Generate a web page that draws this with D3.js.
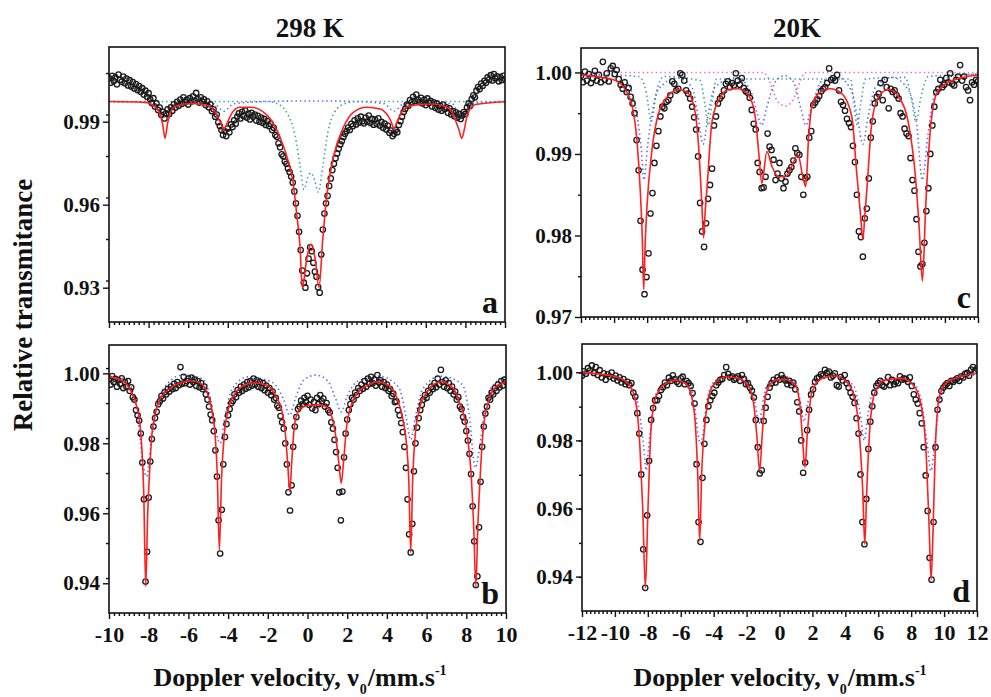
<!DOCTYPE html>
<html>
<head>
<meta charset="utf-8">
<script src="https://cdnjs.cloudflare.com/ajax/libs/d3/7.8.5/d3.min.js"></script>
<style>
  body { margin: 0; background: #fff; }
  svg { display: block; }
  text { font-family: "Liberation Serif", "Times New Roman", serif; font-weight: bold; fill: #111; }
</style>
</head>
<body>
<svg id="chart" width="991" height="697"></svg>
<script>
// ---- data ----
// channel grids (velocity, mm/s)
const gridAB = { start: -10, step: 0.08, count: 251 };
const gridCD = { start: -12, step: 0.12, count: 201 };

// measured transmittance, 298 K (panel a)
const transA = [
  1.0058, 1.0041, 1.0066, 1.0047, 1.0060, 1.0035, 1.0070, 1.0052, 1.0044, 1.0063,
  1.0039, 1.0056, 1.0031, 1.0050, 1.0027, 1.0043, 1.0020, 1.0036, 1.0015, 1.0029,
  1.0008, 1.0021, 0.9998, 1.0012, 0.9990, 1.0003, 0.9981, 0.9968, 0.9985, 0.9955,
  0.9966, 0.9942, 0.9951, 0.9925, 0.9936, 0.9912, 0.9930, 0.9945, 0.9928, 0.9952,
  0.9940, 0.9963, 0.9951, 0.9972, 0.9958, 0.9980, 0.9965, 0.9988, 0.9970, 0.9979,
  0.9962, 0.9985, 0.9973, 0.9992, 0.9976, 1.0004, 0.9982, 0.9969, 0.9988, 0.9972,
  0.9981, 0.9960, 0.9974, 0.9952, 0.9963, 0.9938, 0.9945, 0.9918, 0.9926, 0.9898,
  0.9884, 0.9870, 0.9852, 0.9866, 0.9848, 0.9875, 0.9862, 0.9890, 0.9881, 0.9905,
  0.9893, 0.9918, 0.9930, 0.9912, 0.9936, 0.9921, 0.9940, 0.9915, 0.9929, 0.9908,
  0.9932, 0.9918, 0.9926, 0.9904, 0.9921, 0.9900, 0.9915, 0.9896, 0.9910, 0.9888,
  0.9902, 0.9884, 0.9893, 0.9870, 0.9878, 0.9852, 0.9846, 0.9822, 0.9808, 0.9782,
  0.9775, 0.9756, 0.9748, 0.9731, 0.9718, 0.9702, 0.9680, 0.9648, 0.9605, 0.9560,
  0.9502, 0.9436, 0.9362, 0.9318, 0.9300, 0.9352, 0.9405, 0.9446, 0.9432, 0.9390,
  0.9358, 0.9340, 0.9302, 0.9282, 0.9420, 0.9510, 0.9568, 0.9605, 0.9632, 0.9668,
  0.9695, 0.9725, 0.9748, 0.9768, 0.9785, 0.9802, 0.9818, 0.9830, 0.9845, 0.9856,
  0.9866, 0.9879, 0.9870, 0.9892, 0.9884, 0.9905, 0.9890, 0.9912, 0.9897, 0.9918,
  0.9902, 0.9894, 0.9915, 0.9900, 0.9922, 0.9896, 0.9910, 0.9889, 0.9908, 0.9892,
  0.9912, 0.9886, 0.9899, 0.9878, 0.9893, 0.9872, 0.9886, 0.9860, 0.9868, 0.9848,
  0.9856, 0.9870, 0.9862, 0.9888, 0.9902, 0.9918, 0.9935, 0.9946, 0.9962, 0.9958,
  0.9978, 0.9970, 0.9990, 0.9975, 0.9998, 0.9980, 0.9971, 0.9986, 0.9966, 0.9979,
  0.9960, 0.9984, 0.9968, 0.9975, 0.9955, 0.9970, 0.9950, 0.9966, 0.9944, 0.9958,
  0.9940, 0.9962, 0.9946, 0.9952, 0.9932, 0.9948, 0.9926, 0.9938, 0.9920, 0.9934,
  0.9915, 0.9928, 0.9910, 0.9922, 0.9935, 0.9928, 0.9952, 0.9966, 0.9958, 0.9982,
  0.9995, 0.9988, 1.0012, 1.0025, 1.0018, 1.0038, 1.0030, 1.0048, 1.0041, 1.0060,
  1.0052, 1.0068, 1.0049, 1.0072, 1.0056, 1.0064, 1.0046, 1.0061, 1.0050, 1.0066, 1.0054
];

// measured transmittance, 298 K (panel b)
const transB = [
  0.9985, 0.9968, 0.9992, 0.9975, 0.9984, 0.9962, 0.9980, 0.9970, 0.9986, 0.9958,
  0.9975, 0.9962, 0.9978, 0.9950, 0.9960, 0.9932, 0.9925, 0.9895, 0.9880, 0.9865,
  0.9828, 0.9745, 0.9640, 0.9405, 0.9490, 0.9645, 0.9748, 0.9812, 0.9848, 0.9872,
  0.9890, 0.9912, 0.9920, 0.9935, 0.9928, 0.9946, 0.9940, 0.9955, 0.9948, 0.9962,
  0.9955, 0.9970, 0.9958, 0.9975, 0.9966, 1.0018, 0.9970, 0.9990, 0.9972, 0.9978,
  0.9985, 0.9968, 0.9988, 0.9975, 0.9982, 0.9964, 0.9978, 0.9960, 0.9972, 0.9955,
  0.9962, 0.9940, 0.9925, 0.9905, 0.9882, 0.9866, 0.9835, 0.9780, 0.9705, 0.9580,
  0.9485, 0.9610, 0.9740, 0.9818, 0.9855, 0.9880, 0.9898, 0.9915, 0.9922, 0.9940,
  0.9932, 0.9952, 0.9945, 0.9962, 0.9950, 0.9968, 0.9956, 0.9975, 0.9960, 0.9978,
  0.9965, 0.9985, 0.9968, 0.9980, 0.9962, 0.9976, 0.9958, 0.9972, 0.9952, 0.9965,
  0.9945, 0.9958, 0.9938, 0.9948, 0.9925, 0.9930, 0.9908, 0.9902, 0.9878, 0.9860,
  0.9842, 0.9800, 0.9740, 0.9660, 0.9608, 0.9680, 0.9790, 0.9848, 0.9875, 0.9898,
  0.9905, 0.9922, 0.9912, 0.9930, 0.9918, 0.9936, 0.9910, 0.9925, 0.9900, 0.9918,
  0.9895, 0.9930, 0.9912, 0.9938, 0.9920, 0.9928, 0.9905, 0.9915, 0.9895, 0.9888,
  0.9860, 0.9842, 0.9810, 0.9775, 0.9730, 0.9660, 0.9580, 0.9662, 0.9760, 0.9828,
  0.9868, 0.9895, 0.9912, 0.9930, 0.9925, 0.9945, 0.9938, 0.9958, 0.9950, 0.9968,
  0.9956, 0.9978, 0.9962, 0.9985, 0.9970, 0.9990, 0.9972, 0.9982, 0.9965, 0.9995,
  0.9974, 0.9980, 0.9962, 0.9975, 0.9958, 0.9968, 0.9950, 0.9955, 0.9935, 0.9942,
  0.9918, 0.9920, 0.9895, 0.9880, 0.9858, 0.9832, 0.9790, 0.9730, 0.9640, 0.9540,
  0.9488, 0.9570, 0.9720, 0.9800, 0.9845, 0.9872, 0.9895, 0.9910, 0.9925, 0.9938,
  0.9930, 0.9950, 0.9945, 0.9962, 0.9955, 0.9972, 0.9960, 0.9985, 0.9968, 1.0010,
  0.9975, 0.9962, 0.9980, 0.9958, 0.9972, 0.9950, 0.9962, 0.9940, 0.9948, 0.9925,
  0.9932, 0.9905, 0.9898, 0.9875, 0.9862, 0.9835, 0.9808, 0.9770, 0.9712, 0.9620,
  0.9520, 0.9395, 0.9420, 0.9560, 0.9690, 0.9790, 0.9848, 0.9885, 0.9905, 0.9930,
  0.9925, 0.9945, 0.9940, 0.9958, 0.9950, 0.9968, 0.9960, 0.9978, 0.9965, 0.9982, 0.9975
];

// measured transmittance, 20 K (panel c)
const transC = [
  0.9996, 0.9988, 1.0001, 0.9990, 0.9998, 0.9987, 0.9993, 1.0002, 0.9990, 0.9997,
  0.9988, 1.0013, 0.9991, 0.9999, 0.9989, 1.0005, 1.0008, 0.9998, 1.0003, 0.9992,
  0.9985, 0.9980, 0.9988, 0.9976, 0.9981, 0.9970, 0.9962, 0.9950, 0.9917, 0.9880,
  0.9818, 0.9758, 0.9728, 0.9749, 0.9778, 0.9827, 0.9852, 0.9889, 0.9910, 0.9928,
  0.9946, 0.9958, 0.9956, 0.9964, 0.9966, 0.9972, 0.9989, 0.9986, 0.9978, 0.9980,
  0.9999, 0.9997, 0.9990, 0.9978, 0.9974, 0.9968, 0.9958, 0.9945, 0.9930, 0.9897,
  0.9840, 0.9805, 0.9786, 0.9815, 0.9845, 0.9862, 0.9882, 0.9935, 0.9946, 0.9962,
  0.9968, 0.9971, 0.9978, 0.9986, 0.9989, 0.9982, 0.9987, 0.9984, 0.9999, 0.9990,
  0.9985, 0.9993, 0.9981, 0.9977, 0.9975, 0.9969, 0.9954, 0.9937, 0.9930, 0.9889,
  0.9878, 0.9858, 0.9859, 0.9872, 0.9925, 0.9909, 0.9905, 0.9893, 0.9868, 0.9876,
  0.9889, 0.9870, 0.9858, 0.9866, 0.9876, 0.9880, 0.9884, 0.9892, 0.9907, 0.9901,
  0.9899, 0.9872, 0.9850, 0.9870, 0.9872, 0.9920, 0.9928, 0.9960, 0.9963, 0.9967,
  0.9971, 0.9977, 0.9980, 0.9982, 0.9987, 1.0005, 0.9991, 0.9993, 0.9990, 0.9997,
  0.9978, 0.9964, 0.9960, 0.9953, 0.9943, 0.9938, 0.9933, 0.9910, 0.9890, 0.9850,
  0.9805, 0.9798, 0.9774, 0.9821, 0.9833, 0.9870, 0.9920, 0.9940, 0.9962, 0.9970,
  0.9974, 0.9987, 0.9966, 0.9991, 0.9982, 0.9956, 0.9980, 0.9976, 0.9978, 0.9972,
  0.9968, 0.9950, 0.9946, 0.9931, 0.9925, 0.9922, 0.9895, 0.9868, 0.9855, 0.9820,
  0.9780, 0.9762, 0.9765, 0.9791, 0.9830, 0.9858, 0.9900, 0.9935, 0.9958, 0.9976,
  0.9980, 0.9991, 0.9982, 0.9985, 0.9993, 0.9988, 0.9999, 0.9986, 0.9984, 0.9991,
  0.9995, 1.0009, 0.9990, 0.9995, 0.9982, 0.9978, 0.9966, 0.9988, 0.9985, 0.9991, 0.9989
];

// measured transmittance, 20 K (panel d)
const transD = [
  0.9990, 1.0003, 0.9996, 1.0012, 1.0005, 1.0020, 0.9998, 1.0015, 0.9992, 1.0006,
  0.9985, 0.9997, 0.9978, 0.9994, 0.9987, 0.9999, 0.9982, 0.9990, 0.9976, 0.9985,
  0.9970, 0.9980, 0.9965, 0.9972, 0.9962, 0.9968, 0.9940, 0.9928, 0.9880, 0.9820,
  0.9700, 0.9480, 0.9367, 0.9580, 0.9740, 0.9860, 0.9895, 0.9918, 0.9918, 0.9930,
  0.9948, 0.9956, 0.9970, 0.9962, 0.9984, 0.9975, 0.9991, 0.9980, 0.9972, 0.9966,
  0.9982, 0.9987, 0.9965, 0.9974, 0.9968, 0.9960, 0.9939, 0.9908, 0.9730, 0.9560,
  0.9502, 0.9690, 0.9790, 0.9860, 0.9900, 0.9918, 0.9930, 0.9940, 0.9962, 0.9970,
  0.9978, 0.9980, 0.9992, 1.0015, 0.9995, 0.9985, 0.9988, 0.9978, 0.9982, 0.9988,
  0.9975, 0.9992, 0.9981, 0.9965, 0.9968, 0.9955, 0.9946, 0.9926, 0.9860, 0.9780,
  0.9703, 0.9712, 0.9857, 0.9896, 0.9928, 0.9955, 0.9968, 0.9978, 0.9970, 0.9985,
  0.9978, 0.9992, 0.9982, 0.9976, 0.9965, 0.9975, 0.9962, 0.9970, 0.9950, 0.9912,
  0.9885, 0.9800, 0.9705, 0.9735, 0.9830, 0.9890, 0.9935, 0.9950, 0.9972, 0.9982,
  0.9986, 0.9994, 0.9990, 1.0007, 0.9998, 1.0002, 0.9985, 0.9990, 0.9997, 0.9962,
  0.9958, 0.9986, 0.9976, 0.9992, 0.9968, 0.9955, 0.9940, 0.9928, 0.9910, 0.9865,
  0.9820, 0.9700, 0.9560, 0.9495, 0.9628, 0.9775, 0.9855, 0.9900, 0.9940, 0.9960,
  0.9968, 0.9975, 0.9962, 0.9958, 0.9970, 0.9986, 0.9962, 0.9978, 0.9965, 0.9972,
  0.9968, 0.9988, 0.9978, 0.9982, 0.9980, 0.9972, 0.9985, 0.9960, 0.9935, 0.9920,
  0.9908, 0.9880, 0.9850, 0.9780, 0.9697, 0.9593, 0.9455, 0.9391, 0.9560, 0.9780,
  0.9890, 0.9920, 0.9945, 0.9955, 0.9962, 0.9968, 0.9960, 0.9975, 0.9972, 0.9978,
  0.9982, 0.9975, 0.9988, 0.9985, 0.9995, 0.9998, 0.9990, 1.0008, 1.0015, 1.0004, 1.0010
];

// fitted envelope (red) and sub-spectra (dotted), read at key velocities
const fitAV = [-10, -8.2, -7.7, -7.45, -7.3, -7.17, -7.04, -6.9, -6.6, -5.8, -5.0, -4.6, -4.39, -4.2, -4.0, -3.8, -3.4, -2.8, -2.3, -1.8, -1.36, -1.0, -0.7, -0.52, -0.35, -0.24, 0.0, 0.19, 0.4, 0.61, 0.79, 0.99, 1.33, 1.84, 2.34, 3.0, 3.7, 4.1, 4.25, 4.39, 4.55, 4.75, 5.2, 6.3, 7.0, 7.35, 7.55, 7.68, 7.81, 7.94, 8.1, 8.5, 10];
const fitAT = [0.9973, 0.9970, 0.9955, 0.9932, 0.9895, 0.9840, 0.9895, 0.9932, 0.9958, 0.9966, 0.9958, 0.9930, 0.9900, 0.9873, 0.9900, 0.9930, 0.9952, 0.9952, 0.9940, 0.9905, 0.9843, 0.9770, 0.9680, 0.9566, 0.9446, 0.9301, 0.9410, 0.9458, 0.9410, 0.9301, 0.9470, 0.9627, 0.9771, 0.9880, 0.9934, 0.9952, 0.9946, 0.9920, 0.9900, 0.9873, 0.9900, 0.9930, 0.9958, 0.9964, 0.9955, 0.9932, 0.9895, 0.9870, 0.9840, 0.9870, 0.9925, 0.9962, 0.9972];
const blueAV = [-10, -7.8, -7.45, -7.17, -6.9, -6.5, -4.7, -4.2, -3.7, -2, 0.2, 2.5, 3.9, 4.39, 4.9, 7.3, 7.81, 8.3, 10];
const blueAT = [0.9973, 0.9970, 0.9945, 0.9915, 0.9945, 0.9968, 0.9965, 0.9938, 0.9965, 0.9973, 0.9975, 0.9973, 0.9965, 0.9938, 0.9965, 0.9966, 0.9915, 0.9966, 0.9973];
const greenAV = [-10, -2.0, -1.5, -1.0, -0.6, -0.35, -0.15, 0.05, 0.2, 0.38, 0.57, 0.8, 1.05, 1.4, 1.9, 2.5, 10];
const greenAT = [0.9973, 0.9973, 0.9965, 0.9930, 0.9850, 0.9740, 0.9655, 0.9700, 0.9715, 0.9690, 0.9645, 0.9740, 0.9860, 0.9935, 0.9965, 0.9973, 0.9973];

const fitBV = [-10, -9.3, -8.9, -8.6, -8.45, -8.35, -8.25, -8.15, -8.05, -7.95, -7.85, -7.7, -7.5, -7.2, -6.8, -6.2, -5.9, -5.4, -5.0, -4.8, -4.65, -4.55, -4.44, -4.33, -4.2, -4.0, -3.7, -3.3, -2.7, -2.0, -1.6, -1.3, -1.12, -1.0, -0.89, -0.8, -0.68, -0.55, -0.35, 0.0, 0.5, 0.9, 1.2, 1.4, 1.58, 1.70, 1.82, 1.97, 2.15, 2.5, 3.0, 3.5, 4.1, 4.5, 4.8, 5.0, 5.1, 5.2, 5.3, 5.42, 5.65, 6.0, 6.7, 7.3, 7.7, 7.95, 8.1, 8.25, 8.38, 8.48, 8.58, 8.7, 8.85, 9.05, 9.4, 9.8, 10];
const fitBT = [0.9990, 0.9978, 0.9950, 0.9905, 0.9860, 0.9790, 0.9660, 0.9391, 0.9600, 0.9724, 0.9819, 0.9876, 0.9919, 0.9943, 0.9962, 0.9976, 0.9979, 0.9972, 0.9935, 0.9890, 0.9820, 0.9720, 0.9495, 0.9700, 0.9820, 0.9895, 0.9938, 0.9962, 0.9973, 0.9965, 0.9935, 0.9895, 0.9830, 0.9743, 0.9662, 0.9740, 0.9840, 0.9880, 0.9900, 0.9908, 0.9910, 0.9906, 0.9880, 0.9830, 0.9743, 0.9686, 0.9750, 0.9848, 0.9900, 0.9943, 0.9965, 0.9976, 0.9965, 0.9930, 0.9870, 0.9790, 0.9700, 0.9488, 0.9700, 0.9820, 0.9900, 0.9945, 0.9976, 0.9960, 0.9910, 0.9862, 0.9800, 0.9705, 0.9550, 0.9391, 0.9560, 0.9705, 0.9838, 0.9905, 0.9957, 0.9971, 0.9975];
const blueBV = [-10, -9.2, -8.8, -8.5, -8.3, -8.1, -7.9, -7.6, -7.2, -6.3, -5.3, -4.9, -4.6, -4.4, -4.15, -3.8, -3.0, -1.8, -1.2, -0.9, -0.6, -0.2, 0.4, 1.0, 1.4, 1.7, 2.0, 2.6, 3.6, 4.6, 4.95, 5.2, 5.45, 5.8, 6.7, 7.8, 8.15, 8.45, 8.7, 9.0, 9.5, 10];
const blueBT = [0.9990, 0.9985, 0.9950, 0.9850, 0.9745, 0.9705, 0.9790, 0.9900, 0.9960, 0.9995, 0.9985, 0.9930, 0.9830, 0.9800, 0.9880, 0.9955, 0.9990, 0.9975, 0.9925, 0.9880, 0.9930, 0.9980, 0.9995, 0.9980, 0.9930, 0.9890, 0.9935, 0.9980, 0.9992, 0.9960, 0.9880, 0.9810, 0.9880, 0.9955, 0.9992, 0.9968, 0.9880, 0.9730, 0.9800, 0.9920, 0.9975, 0.9990];

const fitCV = [-12, -10.5, -9.9, -9.3, -8.9, -8.62, -8.42, -8.30, -8.21, -8.12, -8.01, -7.71, -7.31, -6.7, -6.1, -5.5, -5.09, -4.89, -4.69, -4.59, -4.49, -4.39, -4.09, -3.68, -3.08, -2.48, -1.87, -1.47, -1.27, -1.07, -0.76, -0.46, -0.06, 0.34, 0.75, 1.11, 1.45, 1.59, 1.75, 1.95, 2.36, 3.06, 3.77, 4.37, 4.67, 4.9, 5.04, 5.16, 5.28, 5.58, 5.98, 6.59, 7.19, 7.79, 8.2, 8.44, 8.64, 8.84, 9.1, 9.5, 10.2, 12];
const fitCT = [0.9997, 0.9993, 0.9990, 0.9978, 0.9958, 0.9917, 0.9856, 0.9800, 0.9734, 0.9790, 0.9836, 0.9905, 0.9950, 0.9972, 0.9979, 0.9974, 0.9950, 0.9909, 0.9836, 0.9797, 0.9830, 0.9856, 0.9938, 0.9966, 0.9979, 0.9980, 0.9972, 0.9946, 0.9905, 0.9864, 0.9903, 0.9885, 0.9872, 0.9872, 0.9885, 0.9899, 0.9868, 0.9860, 0.9917, 0.9958, 0.9974, 0.9980, 0.9974, 0.9946, 0.9876, 0.9825, 0.9795, 0.9825, 0.9856, 0.9938, 0.9970, 0.9979, 0.9970, 0.9938, 0.9876, 0.9811, 0.9744, 0.9836, 0.9925, 0.9974, 0.9988, 0.9997];
const blueCV = [-12, -9.6, -9.0, -8.6, -8.35, -8.19, -8.0, -7.7, -7.3, -6.2, -5.3, -4.95, -4.62, -4.3, -3.9, -2.6, -1.7, -1.35, -1.07, -0.8, -0.2, 0.3, 0.8, 1.3, 1.59, 1.9, 2.6, 3.6, 4.4, 4.75, 5.04, 5.35, 5.8, 6.8, 7.8, 8.3, 8.64, 8.95, 9.4, 10.5, 12];
const blueCT = [0.9998, 0.9994, 0.9980, 0.9945, 0.9905, 0.9868, 0.9905, 0.9950, 0.9980, 0.9993, 0.9982, 0.9950, 0.9912, 0.9950, 0.9982, 0.9994, 0.9975, 0.9950, 0.9935, 0.9955, 0.9990, 0.9996, 0.9990, 0.9955, 0.9935, 0.9955, 0.9990, 0.9993, 0.9975, 0.9940, 0.9912, 0.9945, 0.9982, 0.9994, 0.9978, 0.9935, 0.9868, 0.9920, 0.9975, 0.9996, 0.9998];
const tealCV = [-12, -8.5, -8.05, -7.75, -7.45, -7.0, -4.8, -4.5, -4.3, -4.1, -3.8, 4.3, 4.5, 4.7, 4.9, 5.2, 7.6, 7.95, 8.25, 8.55, 9.0, 12];
const tealCT = [0.9998, 0.9995, 0.9975, 0.9940, 0.9975, 0.9995, 0.9990, 0.9960, 0.9935, 0.9960, 0.9992, 0.9992, 0.9960, 0.9935, 0.9960, 0.9992, 0.9994, 0.9970, 0.9940, 0.9970, 0.9995, 0.9998];
const pinkCV = [-12, -1.0, -0.7, -0.4, -0.1, 0.35, 0.75, 1.05, 1.35, 1.65, 12];
const pinkCT = [1.0000, 1.0000, 0.9994, 0.9978, 0.9964, 0.9959, 0.9964, 0.9978, 0.9994, 1.0000, 1.0000];

const fitDV = [-12, -9.93, -9.12, -8.72, -8.48, -8.31, -8.15, -7.99, -7.81, -7.51, -6.91, -6.30, -5.70, -5.29, -5.09, -4.97, -4.85, -4.73, -4.53, -4.09, -3.28, -2.48, -1.87, -1.57, -1.37, -1.21, -1.03, -0.82, -0.26, 0.34, 0.95, 1.25, 1.39, 1.55, 1.69, 1.95, 2.56, 3.36, 4.17, 4.67, 4.91, 5.06, 5.18, 5.30, 5.48, 5.78, 6.39, 7.39, 8.20, 8.70, 8.94, 9.10, 9.21, 9.33, 9.47, 9.71, 10.21, 12];
const fitDT = [0.9999, 0.9987, 0.9963, 0.9908, 0.9780, 0.9600, 0.9367, 0.9600, 0.9830, 0.9928, 0.9967, 0.9977, 0.9967, 0.9918, 0.9830, 0.9700, 0.9504, 0.9700, 0.9849, 0.9958, 0.9987, 0.9982, 0.9958, 0.9908, 0.9810, 0.9711, 0.9830, 0.9938, 0.9977, 0.9979, 0.9963, 0.9898, 0.9810, 0.9721, 0.9820, 0.9938, 0.9982, 0.9989, 0.9967, 0.9898, 0.9780, 0.9650, 0.9495, 0.9650, 0.9830, 0.9938, 0.9977, 0.9982, 0.9958, 0.9879, 0.9731, 0.9534, 0.9391, 0.9534, 0.9780, 0.9928, 0.9972, 0.9997];
const blueDV = [-12, -9.5, -8.9, -8.5, -8.25, -8.1, -7.95, -7.7, -7.3, -6.3, -5.5, -5.15, -4.95, -4.8, -4.62, -4.4, -3.9, -2.5, -1.75, -1.45, -1.25, -1.05, -0.8, 0.3, 1.0, 1.3, 1.5, 1.7, 2.0, 3.3, 4.5, 4.9, 5.15, 5.35, 5.7, 6.5, 8.0, 8.6, 8.95, 9.2, 9.45, 9.8, 10.5, 12];
const blueDT = [0.9995, 0.9985, 0.9950, 0.9880, 0.9780, 0.9712, 0.9780, 0.9890, 0.9955, 0.9985, 0.9970, 0.9900, 0.9820, 0.9790, 0.9830, 0.9920, 0.9975, 0.9990, 0.9965, 0.9900, 0.9850, 0.9900, 0.9960, 0.9988, 0.9965, 0.9905, 0.9855, 0.9905, 0.9965, 0.9990, 0.9960, 0.9880, 0.9800, 0.9870, 0.9950, 0.9985, 0.9975, 0.9920, 0.9800, 0.9710, 0.9800, 0.9930, 0.9975, 0.9993];

// axis ticks and labels
const xTicksAB = [-10, -8, -6, -4, -2, 0, 2, 4, 6, 8, 10];
const xTicksCD = [-12, -10, -8, -6, -4, -2, 0, 2, 4, 6, 8, 10, 12];
const yTicksA = [0.93, 0.96, 0.99];
const yTicksB = [0.94, 0.96, 0.98, 1.00];
const yTicksC = [0.97, 0.98, 0.99, 1.00];
const yTicksD = [0.94, 0.96, 0.98, 1.00];
const columnTitles = ["298 K", "20K"];
const yTitle = "Relative transmitance";

// ---- layout ----
const svg = d3.select("#chart");
const RED = "#ff1f1f", BLUE = "#5566ff", TEAL = "#3aa394", PINK = "#ff5fd0";

const gridValues = g => d3.range(g.count).map(i => +(g.start + i * g.step).toFixed(3));
const velAB = gridValues(gridAB);
const velCD = gridValues(gridCD);

function drawPanel(p) {
  const x = d3.scaleLinear().domain(p.xDomain).range([p.left, p.right]);
  const y = d3.scaleLinear().domain(p.yDomain).range([p.bottom, p.top]);
  const g = svg.append("g");

  const clipId = "clip-" + p.letter;
  g.append("clipPath").attr("id", clipId)
    .append("rect")
    .attr("x", p.left).attr("y", p.top)
    .attr("width", p.right - p.left).attr("height", p.bottom - p.top);

  const plot = g.append("g").attr("clip-path", `url(#${clipId})`);
  const line = d3.line().curve(d3.curveMonotoneX).x(d => x(d[0])).y(d => y(d[1]));

  // dotted sub-spectra
  p.components.forEach(c => {
    plot.append("path")
      .datum(d3.zip(c.v, c.t))
      .attr("fill", "none")
      .attr("stroke", c.color)
      .attr("stroke-width", 1.6)
      .attr("stroke-dasharray", "1.4,3")
      .attr("d", line);
  });

  // measured points
  plot.append("g")
    .selectAll("circle")
    .data(d3.zip(p.vel, p.trans))
    .join("circle")
    .attr("cx", d => x(d[0]))
    .attr("cy", d => y(d[1]))
    .attr("r", 2.7)
    .attr("fill", "none")
    .attr("stroke", "#1a1a1a")
    .attr("stroke-width", 1.3);

  // fitted envelope
  plot.append("path")
    .datum(d3.zip(p.fitV, p.fitT))
    .attr("fill", "none")
    .attr("stroke", RED)
    .attr("stroke-width", 1.6)
    .attr("d", line);

  // frame
  g.append("rect")
    .attr("x", p.left).attr("y", p.top)
    .attr("width", p.right - p.left).attr("height", p.bottom - p.top)
    .attr("fill", "none").attr("stroke", "#111").attr("stroke-width", 1.6);

  // x axis: majors + minors
  const xMinor = d3.range(p.xDomain[0], p.xDomain[1] + 0.001, 0.25)
    .filter(v => !p.xTicks.includes(+v.toFixed(2)));
  const xa = g.append("g").attr("transform", `translate(0,${p.bottom})`)
    .call(d3.axisBottom(x).tickValues(p.xTicks).tickSize(6).tickPadding(7)
      .tickFormat(p.xLabels ? (d => String(d)) : () => ""));
  g.append("g").attr("transform", `translate(0,${p.bottom})`)
    .call(d3.axisBottom(x).tickValues(xMinor).tickSize(3).tickFormat(() => ""));

  // y axis
  const yMinor = d3.range(p.yDomain[0], p.yDomain[1], p.yMinorStep)
    .map(v => +v.toFixed(4))
    .filter(v => v > p.yDomain[0] && !p.yTicks.some(t => Math.abs(t - v) < 1e-6));
  const ya = g.append("g").attr("transform", `translate(${p.left},0)`)
    .call(d3.axisLeft(y).tickValues(p.yTicks).tickSize(6).tickPadding(3).tickFormat(d3.format(".2f")));
  g.append("g").attr("transform", `translate(${p.left},0)`)
    .call(d3.axisLeft(y).tickValues(yMinor).tickSize(3).tickFormat(() => ""));

  g.selectAll(".domain").remove();
  g.selectAll(".tick line").attr("stroke", "#111").attr("stroke-width", 1.4);
  xa.selectAll("text").style("font-size", "22px").attr("fill", "#111");
  ya.selectAll("text").style("font-size", "21px").attr("fill", "#111");

  // panel letter
  g.append("text")
    .attr("x", p.right - 7).attr("y", p.bottom - 9)
    .attr("text-anchor", "end")
    .style("font-size", "32px")
    .text(p.letter);
}

drawPanel({
  letter: "a", left: 109, right: 505, top: 47, bottom: 322,
  xDomain: [-10, 10], yDomain: [0.9176, 1.017], xTicks: xTicksAB, xLabels: false,
  yTicks: yTicksA, yMinorStep: 0.015,
  vel: velAB, trans: transA, fitV: fitAV, fitT: fitAT,
  components: [{ v: blueAV, t: blueAT, color: BLUE }, { v: greenAV, t: greenAT, color: TEAL }]
});
drawPanel({
  letter: "b", left: 109, right: 506, top: 345, bottom: 613,
  xDomain: [-10, 10], yDomain: [0.9315, 1.0081], xTicks: xTicksAB, xLabels: true,
  yTicks: yTicksB, yMinorStep: 0.01,
  vel: velAB, trans: transB, fitV: fitBV, fitT: fitBT,
  components: [{ v: blueBV, t: blueBT, color: BLUE }]
});
drawPanel({
  letter: "c", left: 581, right: 978, top: 48, bottom: 317,
  xDomain: [-12, 12], yDomain: [0.97, 1.003], xTicks: xTicksCD, xLabels: false,
  yTicks: yTicksC, yMinorStep: 0.005,
  vel: velCD, trans: transC, fitV: fitCV, fitT: fitCT,
  components: [{ v: pinkCV, t: pinkCT, color: PINK }, { v: tealCV, t: tealCT, color: TEAL }, { v: blueCV, t: blueCT, color: BLUE }]
});
drawPanel({
  letter: "d", left: 582, right: 977, top: 344, bottom: 611,
  xDomain: [-12, 12], yDomain: [0.9299, 1.0083], xTicks: xTicksCD, xLabels: true,
  yTicks: yTicksD, yMinorStep: 0.01,
  vel: velCD, trans: transD, fitV: fitDV, fitT: fitDT,
  components: [{ v: blueDV, t: blueDT, color: BLUE }]
});

// column titles
svg.append("text").attr("x", 310).attr("y", 37).attr("text-anchor", "middle")
  .style("font-size", "27px").text(columnTitles[0]);
svg.append("text").attr("x", 797).attr("y", 37).attr("text-anchor", "middle")
  .style("font-size", "27px").text(columnTitles[1]);

// y title
svg.append("text")
  .attr("transform", "translate(32,305) rotate(-90)")
  .attr("text-anchor", "middle")
  .style("font-size", "27px")
  .text(yTitle);

// x titles
[300, 780].forEach(cx => {
  const t = svg.append("text").attr("x", cx).attr("y", 686)
    .attr("text-anchor", "middle").style("font-size", "26px");
  t.append("tspan").text("Doppler velocity, \u03bd");
  t.append("tspan").attr("dx", 1).attr("dy", 8).style("font-size", "14px").text("0");
  t.append("tspan").attr("dx", 1).attr("dy", -8).text("/mm.s");
  t.append("tspan").attr("dy", -11).style("font-size", "14px").text("-1");
});
</script>
</body>
</html>
